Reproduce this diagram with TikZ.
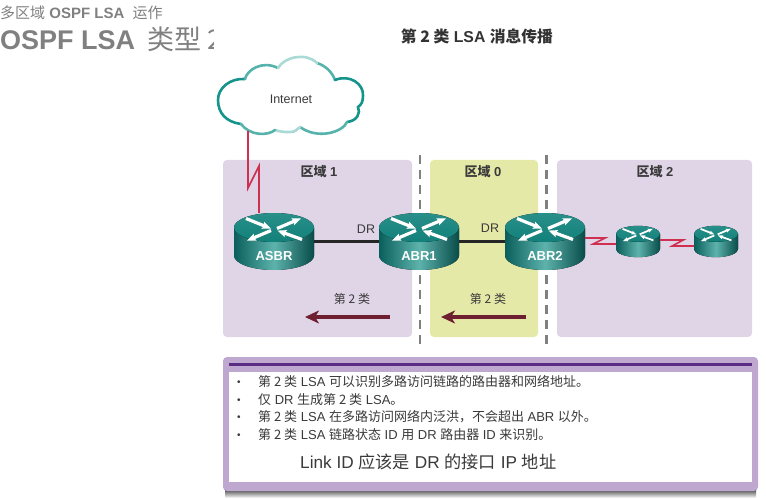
\documentclass[tikz,border=0pt]{standalone}
\usepackage{fontspec}
\setmainfont{Liberation Sans}
\newfontfamily\cjk{Noto Sans CJK SC}
\usetikzlibrary{calc,arrows.meta}

\definecolor{areapurple}{HTML}{E0D5E6}
\definecolor{areayellow}{HTML}{E5E9A8}
\definecolor{panelpurple}{HTML}{BFA8D0}
\definecolor{paneldark}{HTML}{5B2C83}
\definecolor{tealdark}{HTML}{0A5F5C}
\definecolor{tealmid}{HTML}{5DB3AC}
\definecolor{tealtop}{HTML}{12807A}
\definecolor{serialred}{HTML}{D0304F}
\definecolor{lsamaroon}{HTML}{6E1F30}
\definecolor{textgrey}{HTML}{3A3A3A}
\definecolor{cloudA}{HTML}{14948B}
\definecolor{cloudB}{HTML}{55B3AB}
\definecolor{cloudC}{HTML}{A9DAD5}

\tikzstyle{area} = [rounded corners=4pt]
\tikzstyle{arealabel} = [font=\fontsize{13}{15}\selectfont\bfseries, text=textgrey]
\tikzstyle{border} = [draw=gray, line width=2.2pt, dash pattern=on 9pt off 6pt]
\tikzstyle{router} = [rectangle, inner sep=0pt]
\tikzstyle{routername} = [text=white, font=\fontsize{13}{15}\selectfont\bfseries]
\tikzstyle{link} = [black!85, line width=2.4pt]
\tikzstyle{serial} = [serialred, line width=1.6pt]
\tikzstyle{arrow} = [lsamaroon, line width=3.6pt, -{Stealth[length=14pt,width=13pt,inset=4pt]}]
\tikzstyle{bullet} = [anchor=west, inner sep=0pt, font=\fontsize{13}{15}\selectfont, text=textgrey]
\tikzstyle{cloudline} = [line width=2.6pt, line cap=round]

% router drawn for a top ellipse of half width 40
\tikzset{routerpic/.pic={
    \fill [left color=tealdark, right color=tealdark!80!black, middle color=tealmid]
        (-40,-14) -- (-40,14) arc [start angle=180, end angle=0, x radius=40, y radius=14.5] -- (40,-14) -- cycle;
    \fill [top color=tealtop!70!tealmid, bottom color=tealtop] (0,-14) ellipse [x radius=40, y radius=14.5];
    \foreach \ax/\ay/\ang/\len in {-28/-23/-22/27, 3/-13/23/26, -3/-11/203/26, 28/-2/160/26} {
        \fill [white, shift={(\ax,\ay)}, rotate=\ang]
            (0,-1.6) -- (\len-8,-1.6) -- (\len-9,-3.8) -- (\len,0) -- (\len-9,3.8) -- (\len-8,1.6) -- (0,1.6) -- cycle;
    }
}}

\begin{document}
\begin{tikzpicture}[x=1pt, y=-1pt]
    \useasboundingbox (0,0) rectangle (766,500);

    \begin{scope}
        \clip (0,0) rectangle (213,60);
        \node (heading) [anchor=west, inner sep=0pt, text=gray, font=\fontsize{15}{17}\selectfont] at (0,13) {{\cjk 多区域} \textbf{OSPF LSA} \ {\cjk 运作}};
        \node (title) [anchor=west, inner sep=0pt, text=gray, font=\fontsize{27}{30}\selectfont] at (0,39) {\textbf{OSPF LSA}\hspace{12pt}{\cjk 类型 2}};
    \end{scope}
    \node (figtitle) [text=black!80, font=\fontsize{15.8}{18}\selectfont\bfseries] at (477,36) {{\cjk\bfseries 第 2 类} LSA {\cjk\bfseries 消息传播}};

    % areas
    \fill [area, areapurple] (223,160) rectangle (412,337);
    \fill [area, areayellow] (430,160) rectangle (538,337);
    \fill [area, areapurple] (557,160) rectangle (752,337);
    \node (area1) [arealabel] at (319,172) {{\cjk\bfseries 区域} 1};
    \node (area0) [arealabel] at (483,172) {{\cjk\bfseries 区域} 0};
    \node (area2) [arealabel] at (655,172) {{\cjk\bfseries 区域} 2};
    \draw [border] (420,155) -- (420,347);
    \draw [border] (546.5,155) -- (546.5,347);

    % cloud
    \draw [cloudline, cloudA] (241,124) .. controls (226,122) and (218,113) .. (218,100) .. controls (218,88) and (230,78) .. (245,79);
    \draw [cloudline, cloudB] (245,79) .. controls (247,70) and (262,60) .. (278,68);
    \draw [cloudline, cloudB] (317,63) .. controls (326,66) and (332,72) .. (335,80);
    \draw [cloudline, cloudC] (278,68) .. controls (284,57) and (306,52) .. (317,63);
    \draw [cloudline, cloudA] (335,80) .. controls (350,74) and (364,84) .. (363,96) .. controls (363,102) and (361,105) .. (358,107) .. controls (361,113) and (357,121) .. (347,122);
    \draw [cloudline, cloudB] (347,122) .. controls (343,132) and (318,140) .. (300,127);
    \draw [cloudline, cloudC] (300,127) .. controls (297,129) and (296,132) .. (290,132) .. controls (285,132) and (280,132) .. (275,130);
    \draw [cloudline, cloudB] (275,130) .. controls (268,136) and (250,136) .. (241,124);
    \node (internet) [font=\fontsize{12.5}{14}\selectfont, text=textgrey] at (291,99) {Internet};
    \coordinate (cloudfoot) at (248,131);

    % routers
    \pic at (274,241.5) {routerpic};
    \pic at (419,241.5) {routerpic};
    \pic at (545,241.5) {routerpic};
    \pic [scale=0.55] at (638,241.5) {routerpic};
    \pic [scale=0.55] at (716,241.5) {routerpic};
    \node (asbr) [router, minimum width=80pt, minimum height=57pt] at (274,241.5) {};
    \node (abr1) [router, minimum width=80pt, minimum height=57pt] at (419,241.5) {};
    \node (abr2) [router, minimum width=80pt, minimum height=57pt] at (545,241.5) {};
    \node (r1) [router, minimum width=44pt, minimum height=31pt] at (638,241.5) {};
    \node (r2) [router, minimum width=44pt, minimum height=31pt] at (716,241.5) {};
    \node (asbrname) [routername] at (274,256) {ASBR};
    \node (abr1name) [routername] at (419,256) {ABR1};
    \node (abr2name) [routername] at (545,256) {ABR2};

    % links
    \draw [link] (asbr.east) -- (abr1.west);
    \draw [link] (abr1.east) -- (abr2.west);
    \draw [serial] (cloudfoot) -- ++(0,57) -- ++(11,-22) -- (asbr.north -| 259,0);
    \draw [serial] ($(abr2.east)+(0,-3.5)$) -- ++(20,0) -- ++(-12,6) -- ($(r1.west)+(0,2.5)$);
    \draw [serial] ($(r1.east)+(0,-1.5)$) -- ++(23,0) -- ++(-11,6) -- ($(r2.west)+(0,4.5)$);
    \node (dr1) [font=\fontsize{12.5}{14}\selectfont, text=textgrey] at (366,229) {DR};
    \node (dr2) [font=\fontsize{12.5}{14}\selectfont, text=textgrey] at (490,228) {DR};

    % flooding
    \node (type1) [font=\fontsize{12}{14}\selectfont, text=textgrey] at (352,299) {{\cjk 第 2 类}};
    \node (type0) [font=\fontsize{12}{14}\selectfont, text=textgrey] at (488,299) {{\cjk 第 2 类}};
    \coordinate (flood1a) at (390,317);
    \coordinate (flood1b) at (305,317);
    \coordinate (flood0a) at (526,317);
    \coordinate (flood0b) at (441,317);
    \draw [arrow] (flood1a) -- (flood1b);
    \draw [arrow] (flood0a) -- (flood0b);

    % notes
    \shade [top color=black!75, bottom color=white] (225,489) rectangle (756,498);
    \fill [panelpurple, rounded corners=4pt] (223,357) rectangle (758,491);
    \fill [paneldark] (229,363) rectangle (752,366);
    \fill [white] (229,372) rectangle (752,482);
    \foreach \ypos in {383.5,401,418.5,436.5} {
        \node [bullet, font=\fontsize{10}{12}\selectfont] at (237,\ypos) {•};
    }
    \node (note1) [bullet] at (258,382) {{\cjk 第 2 类} LSA {\cjk 可以识别多路访问链路的路由器和网络地址。}};
    \node (note2) [bullet] at (258,399.5) {{\cjk 仅} DR {\cjk 生成第 2 类} LSA{\cjk 。}};
    \node (note3) [bullet] at (258,417) {{\cjk 第 2 类} LSA {\cjk 在多路访问网络内泛洪，不会超出} ABR {\cjk 以外。}};
    \node (note4) [bullet] at (258,435) {{\cjk 第 2 类} LSA {\cjk 链路状态} ID {\cjk 用} DR {\cjk 路由器} ID {\cjk 来识别。}};
    \node (note5) [bullet, font=\fontsize{17.2}{19}\selectfont] at (300,462) {Link ID {\cjk 应该是} DR {\cjk 的接口} IP {\cjk 地址}};
\end{tikzpicture}
\end{document}
